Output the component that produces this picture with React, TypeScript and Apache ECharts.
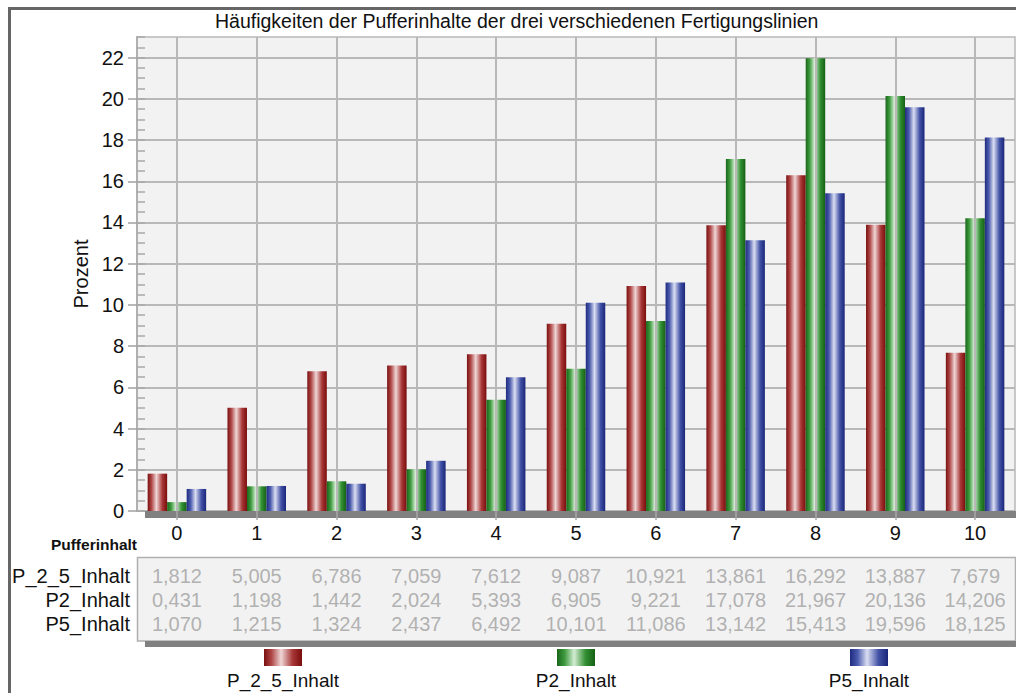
import React, { useEffect, useRef } from "react";
import * as echarts from "echarts";

const categories = ["0", "1", "2", "3", "4", "5", "6", "7", "8", "9", "10"];
const seriesNames = ["P_2_5_Inhalt", "P2_Inhalt", "P5_Inhalt"];
const p25Values = [1.812, 5.005, 6.786, 7.059, 7.612, 9.087, 10.921, 13.861, 16.292, 13.887, 7.679];
const p2Values = [0.431, 1.198, 1.442, 2.024, 5.393, 6.905, 9.221, 17.078, 21.967, 20.136, 14.206];
const p5Values = [1.07, 1.215, 1.324, 2.437, 6.492, 10.101, 11.086, 13.142, 15.413, 19.596, 18.125];
const yMin = 0;
const yMax = 23;
const yInterval = 2;
const yMinorInterval = 0.5;

const FONT = "Liberation Sans";

function cyl(stops: string[]) {
  return new echarts.graphic.LinearGradient(0, 0, 1, 0, [
    { offset: 0, color: stops[0] },
    { offset: 0.2, color: stops[1] },
    { offset: 0.45, color: stops[2] },
    { offset: 0.75, color: stops[3] },
    { offset: 1, color: stops[4] },
  ]);
}

const seriesColors = [
  cyl(["#7a1010", "#b04848", "#efd6d6", "#a83838", "#7a0c0c"]),
  cyl(["#1a661a", "#3d9a3d", "#d4ecd4", "#339033", "#146014"]),
  cyl(["#1f2c80", "#4a5aac", "#dadef2", "#4252a6", "#1a267a"]),
];

export default function App() {
  const ref = useRef<HTMLDivElement>(null);
  useEffect(() => {
    if (!ref.current) return;
    const chart = echarts.init(ref.current, undefined, { renderer: "svg" });
    const allValues = [p25Values, p2Values, p5Values];
    const tableData: number[][] = [];
    allValues.forEach((vals, r) => vals.forEach((v, c) => tableData.push([c, r, v])));

    const legendLefts = [264, 557, 850];
    const legendCenters = [283, 576, 869];

    const option: any = {
      animation: false,
      backgroundColor: "#ffffff",
      textStyle: { fontFamily: FONT },
      title: {
        text: "Häufigkeiten der Pufferinhalte der drei verschiedenen Fertigungslinien",
        left: 215,
        top: 11,
        padding: 0,
        textStyle: { fontFamily: FONT, fontSize: 19.5, fontWeight: "normal", color: "#111" },
      },
      grid: [
        {
          left: 137,
          top: 37,
          width: 878,
          height: 474,
          show: true,
          backgroundColor: "#f2f2f2",
          borderColor: "#b8b8b8",
          borderWidth: 1.5,
        },
        { left: 137, top: 564, width: 878, height: 72, show: false },
      ],
      xAxis: [
        {
          type: "category",
          gridIndex: 0,
          data: categories,
          boundaryGap: true,
          z: 3,
          axisLine: { show: false },
          axisTick: { show: true, alignWithLabel: true, length: 9, lineStyle: { color: "#a8a8a8", width: 1.5 } },
          axisLabel: { fontFamily: FONT, fontSize: 20, color: "#111", margin: 12 },
          splitLine: { show: true, alignWithLabel: true, lineStyle: { color: "#b8b8b8", width: 2 } },
        },
        {
          type: "category",
          gridIndex: 1,
          data: categories,
          boundaryGap: true,
          show: false,
        },
      ],
      yAxis: [
        {
          type: "value",
          gridIndex: 0,
          min: yMin,
          max: yMax,
          interval: yInterval,
          name: "Prozent",
          nameLocation: "middle",
          nameGap: 36,
          nameTextStyle: { fontFamily: FONT, fontSize: 20, color: "#111" },
          axisLine: { show: true, lineStyle: { color: "#b0b0b0", width: 2 } },
          axisTick: { show: true, length: 9, lineStyle: { color: "#a0a0a0", width: 1.5 } },
          axisLabel: { fontFamily: FONT, fontSize: 20, color: "#111", margin: 13, showMaxLabel: false },
          splitLine: { show: true, showMaxLine: false, lineStyle: { color: "#b8b8b8", width: 2 } },
        },
        {
          type: "value",
          gridIndex: 0,
          min: yMin,
          max: yMax,
          interval: yMinorInterval,
          position: "left",
          axisLine: { show: false },
          axisTick: { show: true, inside: true, length: 8, lineStyle: { color: "#a8a8a8", width: 1.5 } },
          axisLabel: { show: false },
          splitLine: { show: false },
        },
        {
          type: "category",
          gridIndex: 1,
          data: seriesNames,
          inverse: true,
          axisLine: { show: false },
          axisTick: { show: false },
          splitLine: { show: false },
          axisLabel: { fontFamily: FONT, fontSize: 20, color: "#111", margin: 7, interval: 0, hideOverlap: false },
        },
      ],
      legend: seriesNames.map((name, i) => ({
        data: [name],
        left: legendLefts[i],
        top: 649,
        padding: 0,
        itemWidth: 38,
        itemHeight: 17,
        icon: "rect",
        selectedMode: false,
        formatter: () => "",
        textStyle: { fontSize: 1 },
      })),
      series: [
        ...allValues.map((vals, i) => ({
          name: seriesNames[i],
          type: "bar",
          xAxisIndex: 0,
          yAxisIndex: 0,
          data: vals,
          barWidth: 19.5,
          barGap: "0%",
          itemStyle: { color: seriesColors[i] },
        })),
        {
          name: "table",
          type: "scatter",
          xAxisIndex: 1,
          yAxisIndex: 2,
          data: tableData,
          symbolSize: 0,
          silent: true,
          z: 5,
          label: {
            show: true,
            position: "inside",
            fontFamily: FONT,
            fontSize: 20,
            color: "#a0a0a0",
            formatter: (p: any) => p.value[2].toFixed(3).replace(".", ","),
          },
        },
      ],
      graphic: [
        {
          type: "rect",
          z: 10,
          shape: { x: 9.5, y: 8.5, width: 1300, height: 900 },
          style: { fill: "none", stroke: "#666666", lineWidth: 3 },
          silent: true,
        },
        {
          type: "rect",
          z: 1,
          shape: { x: 145, y: 511, width: 872, height: 7 },
          style: { fill: "#808080" },
          silent: true,
        },
        {
          type: "rect",
          z: 0,
          shape: { x: 137.5, y: 557.5, width: 878, height: 83.5 },
          style: { fill: "#f2f2f2", stroke: "#b0b0b0", lineWidth: 1.5 },
          silent: true,
        },
        {
          type: "rect",
          z: 0,
          shape: { x: 145, y: 641, width: 872, height: 6 },
          style: { fill: "#808080" },
          silent: true,
        },
        {
          type: "text",
          z: 5,
          x: 137,
          y: 544,
          style: {
            text: "Pufferinhalt",
            fontFamily: FONT,
            fontSize: 15.5,
            fontWeight: "bold",
            fill: "#111",
            align: "right",
            verticalAlign: "middle",
          },
          silent: true,
        },
        ...seriesNames.map((name, i) => ({
          type: "text",
          z: 5,
          x: legendCenters[i],
          y: 680,
          style: {
            text: name,
            fontFamily: FONT,
            fontSize: 19,
            fill: "#111",
            align: "center",
            verticalAlign: "middle",
          },
          silent: true,
        })),
      ],
    };
    chart.setOption(option);
    return () => chart.dispose();
  }, []);
  return (
    <div
      ref={ref}
      style={{ position: "absolute", left: 0, top: 0, width: 1016, height: 693, background: "#fff" }}
    />
  );
}
